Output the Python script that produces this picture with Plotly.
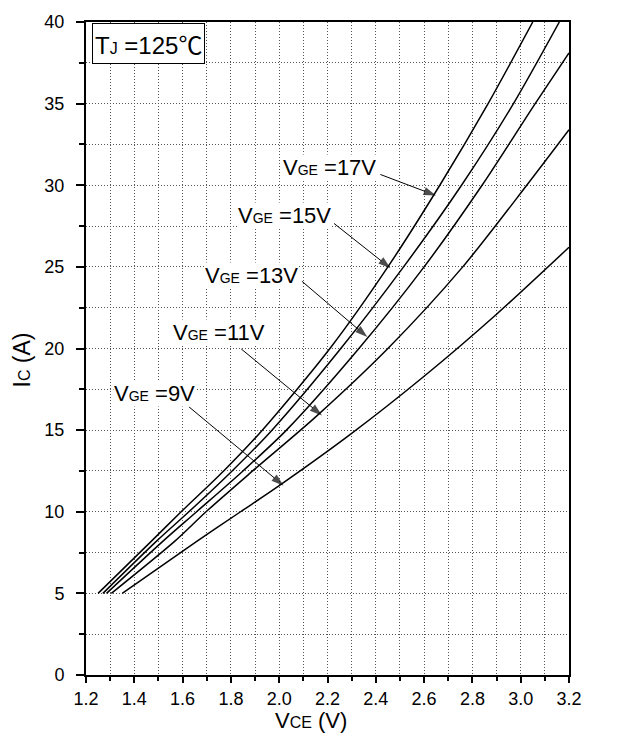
import plotly.graph_objects as go

# ---- data (VCE in V, IC in A) ----
v17 = [1.25, 1.471, 1.594, 1.77, 1.93, 2.21, 2.45, 2.665, 2.865, 3.05]
i17 = [5, 8.2, 10, 12.5, 15, 20, 25, 30, 35, 40]

v15 = [1.27, 1.492, 1.626, 1.805, 1.97, 2.255, 2.515, 2.755, 2.97, 3.16]
i15 = [5, 8.2, 10, 12.5, 15, 20, 25, 30, 35, 40]

v13 = [1.285, 1.519, 1.658, 1.85, 2.03, 2.33, 2.6, 2.84, 3.06, 3.2]
i13 = [5, 8.2, 10, 12.5, 15, 20, 25, 30, 35, 38.1]

v11 = [1.305, 1.568, 1.697, 1.89, 2.15, 2.45, 2.76, 3.025, 3.2]
i11 = [5, 8.2, 10, 12.5, 15.8, 20, 25, 30, 33.4]

v9 = [1.35, 1.66, 1.84, 2.0, 2.3, 2.6, 2.9, 3.2]
i9 = [5, 8.2, 10, 11.6, 14.8, 18.3, 22.1, 26.2]

curves = [(v17, i17), (v15, i15), (v13, i13), (v11, i11), (v9, i9)]

# label annotations: gate voltage, label anchor (right end), arrow start, arrow tip
labels = ["17V", "15V", "13V", "11V", "9V"]
label_x = [2.407, 2.219, 2.081, 1.947, 1.655]
label_y = [31.08, 28.15, 24.49, 20.95, 17.22]
arrow_start_x = [2.419, 2.227, 2.094, 1.843, 1.626]
arrow_start_y = [30.66, 27.66, 24.12, 19.97, 16.43]
arrow_tip_x = [2.649, 2.461, 2.365, 2.177, 2.018]
arrow_tip_y = [29.37, 24.92, 20.70, 15.9, 11.6]

x_ticks = [1.2, 1.4, 1.6, 1.8, 2.0, 2.2, 2.4, 2.6, 2.8, 3.0, 3.2]
y_ticks = [0, 5, 10, 15, 20, 25, 30, 35, 40]

FONT = "Arial, Liberation Sans, Helvetica, sans-serif"

fig = go.Figure()
for v, i in curves:
    fig.add_trace(go.Scatter(
        x=v, y=i, mode="lines",
        line=dict(color="black", width=1.5, shape="spline", smoothing=0.8),
        hoverinfo="skip", showlegend=False))

for k in range(len(labels)):
    fig.add_trace(go.Scatter(
        x=[arrow_start_x[k], arrow_tip_x[k]], y=[arrow_start_y[k], arrow_tip_y[k]],
        mode="lines+markers",
        line=dict(color="black", width=1),
        marker=dict(symbol="arrow", size=[0, 13], angleref="previous", color="black",
                    line=dict(width=0)),
        hoverinfo="skip", showlegend=False))
    fig.add_annotation(
        x=label_x[k], y=label_y[k], xref="x", yref="y",
        xanchor="right", yanchor="middle", showarrow=False,
        text="V<span style='font-size:14px'>GE</span> =" + labels[k],
        font=dict(family=FONT, size=22, color="black"),
        bgcolor="white", borderpad=0)

grid_common = dict(showgrid=True, gridcolor="#555555", gridwidth=1, griddash="1px,2px")

fig.update_xaxes(
    range=[1.2, 3.2], tickvals=x_ticks, ticktext=[f"{t:.1f}" for t in x_ticks],
    ticks="outside", ticklen=6, tickwidth=1.5, tickcolor="black",
    showline=True, linewidth=2, linecolor="black", mirror=True, zeroline=False,
    tickfont=dict(family=FONT, size=18, color="black"),
    minor=dict(dtick=0.1, tick0=1.2, ticks="outside", ticklen=4, tickwidth=1.5,
               tickcolor="black", **grid_common),
    **grid_common)
fig.update_yaxes(
    range=[0, 40], tickvals=y_ticks,
    ticks="outside", ticklen=8, tickwidth=1.5, tickcolor="black",
    ticklabelstandoff=8,
    showline=True, linewidth=2, linecolor="black", mirror=True, zeroline=False,
    tickfont=dict(family=FONT, size=18, color="black"),
    minor=dict(dtick=2.5, tick0=0, ticks="outside", ticklen=5, tickwidth=1.5,
               tickcolor="black", **grid_common),
    **grid_common)

fig.add_annotation(
    x=0.012, y=0.999, xref="paper", yref="paper", xanchor="left", yanchor="top",
    showarrow=False,
    text="T<span style='font-size:16px'>J</span> =125<span style=\"font-family:'Noto Sans CJK SC'\">℃</span>",
    font=dict(family=FONT, size=24, color="black"),
    bgcolor="white", bordercolor="black", borderwidth=1, borderpad=2)

fig.add_annotation(
    x=0.465, y=-0.069, xref="paper", yref="paper", xanchor="center", yanchor="middle",
    showarrow=False,
    text="V<span style='font-size:16px'>CE</span> (V)",
    font=dict(family=FONT, size=22, color="black"))
fig.add_annotation(
    x=-0.132, y=0.482, xref="paper", yref="paper", xanchor="center", yanchor="middle",
    showarrow=False, textangle=-90,
    text="I<span style='font-size:16px'>C</span> (A)",
    font=dict(family=FONT, size=23, color="black"))

fig.update_layout(
    width=621, height=743,
    margin=dict(l=86, r=52, t=18, b=68),
    paper_bgcolor="white", plot_bgcolor="white",
    showlegend=False)

fig.write_html("out.html",
               config={"displayModeBar": False},
               post_script="document.body.style.margin='0px';document.body.style.overflow='hidden';")
